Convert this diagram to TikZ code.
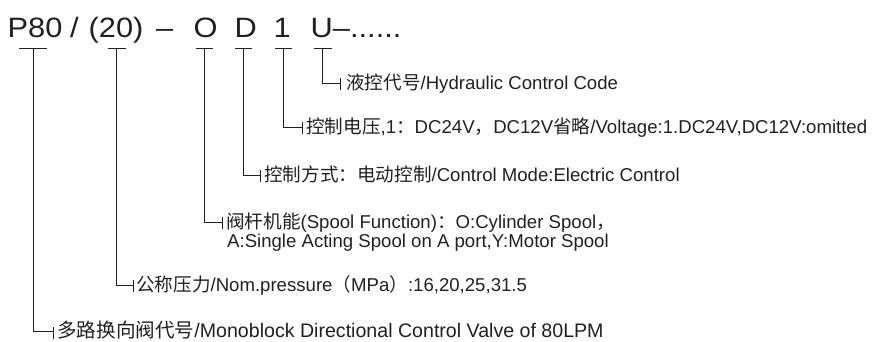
\documentclass[tikz,border=0pt]{standalone}
\usepackage{fontspec}
\setmainfont{Liberation Sans}
\newfontfamily\titlefont[FakeStretch=1.1]{Liberation Sans}
\newfontfamily\cjk{Noto Sans CJK SC}
\definecolor{ink}{HTML}{231F20}
\begin{document}
\begin{tikzpicture}[x=1pt,y=-1pt,
  title/.style={anchor=base west,inner sep=0,font=\titlefont\fontsize{28}{30}\selectfont,text=ink},
  lbl/.style={anchor=base west,inner sep=0,font=\fontsize{18.6}{22}\selectfont,text=ink},
  leg/.style={draw=ink,line width=0.95pt}]
\useasboundingbox (0,0) rectangle (873,341);
% title pieces
\node[title] (tP)  at (7.5,37)   {P80};
\node[title] (tS)  at (70,37)  {/};
\node[title] (t20) at (88.5,37)  {(20)};
\node[title] (tM)  at (156,37) {–};
\node[title] (tO)  at (193.5,37) {O};
\node[title] (tD)  at (234.5,37) {D};
\node[title] (t1)  at (273.5,37) {1};
\node[title] (tU)  at (310.5,37) {U–......};
% labels
\node[lbl] (lU) at (346,89.5) {{\cjk 液控代号}/Hydraulic Control Code};
\node[lbl] (l1) at (306,133.5) {{\cjk 控制电压}{,}1{\cjk ：}DC24V{\cjk ，}DC12V{\cjk 省略}/Voltage:1.DC24V,DC12V:omitted};
\node[lbl] (lD) at (264,181.5) {{\cjk 控制方式：电动控制}/Control Mode:Electric Control};
\node[lbl] (lO) at (226,228.5) {{\cjk 阀杆机能}(Spool Function){\cjk ：}O:Cylinder Spool{\cjk ，}};
\node[lbl] (lOb) at (227,247.5) {A:Single Acting Spool on A port,Y:Motor Spool};
\node[lbl] (l20) at (136,291.5) {{\cjk 公称压力}/Nom.pressure{\cjk （}MPa{\cjk ）}:16,20,25,31.5};
\node[lbl,font=\fontsize{19.6}{22}\selectfont] (lP) at (57,337.6) {{\cjk 多路换向阀代号}/Monoblock Directional Control Valve of 80LPM};
% legs: bar centre x, half bar width, label line y, tick x
\foreach \x/\h/\y/\t in {33/14/331.5/53, 116.5/9/285/133, 204/8.5/222/222, 243.5/8.5/175/260, 283.5/8.5/127/302, 322.5/9/83/340}{
  \coordinate (top) at (\x,48);
  \coordinate (corner) at (\x,\y);
  \coordinate (tick) at (\t,\y);
  \draw[leg] ([xshift=-\h pt]top) -- ([xshift=\h pt]top);
  \draw[leg] (top) -- (corner) -- (tick);
  \draw[leg] ([yshift=-7pt]tick) -- ([yshift=5pt]tick);
}
\end{tikzpicture}
\end{document}
